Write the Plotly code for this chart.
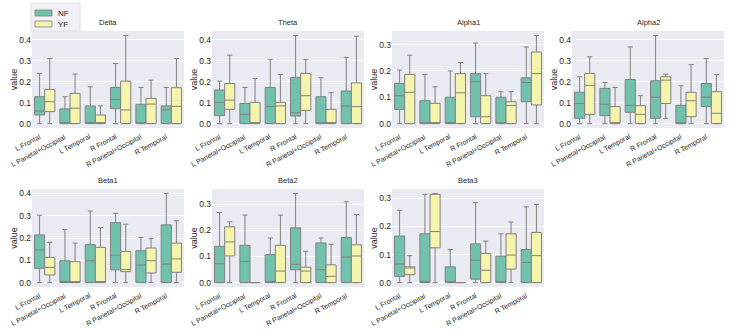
import plotly.graph_objects as go

regions = ["L Frontal", "L Parietal+Occipital", "L Temporal", "R Frontal", "R Parietal+Occipital", "R Temporal"]
bands = ["Delta", "Theta", "Alpha1", "Alpha2", "Beta1", "Beta2", "Beta3"]

# per band: [low, q1, median, q3, high] per region, for NF and YF
delta_nf_low = [0, 0, 0, 0, 0, 0]
delta_nf_q1 = [0.041, 0, 0, 0.071, 0, 0]
delta_nf_med = [0.060, 0, 0, 0.115, 0, 0.065]
delta_nf_q3 = [0.128, 0.070, 0.084, 0.172, 0.092, 0.084]
delta_nf_high = [0.239, 0.128, 0.175, 0.286, 0.172, 0.172]
delta_yf_low = [0, 0, 0, 0, 0, 0]
delta_yf_q1 = [0.057, 0, 0, 0, 0, 0]
delta_yf_med = [0.104, 0.073, 0, 0.065, 0.093, 0.082]
delta_yf_q3 = [0.163, 0.144, 0.041, 0.202, 0.120, 0.171]
delta_yf_high = [0.310, 0.236, 0.084, 0.420, 0.207, 0.310]

theta_nf_low = [0, 0, 0, 0, 0, 0]
theta_nf_q1 = [0.038, 0, 0, 0.036, 0, 0]
theta_nf_med = [0.101, 0.044, 0.081, 0.052, 0, 0.084]
theta_nf_q3 = [0.160, 0.096, 0.172, 0.220, 0.128, 0.155]
theta_nf_high = [0.202, 0.172, 0.305, 0.420, 0.218, 0.315]
theta_yf_low = [0, 0, 0, 0, 0, 0]
theta_yf_q1 = [0.068, 0, 0, 0.063, 0, 0]
theta_yf_med = [0.112, 0, 0.084, 0.133, 0, 0.081]
theta_yf_q3 = [0.191, 0.101, 0.101, 0.239, 0.068, 0.194]
theta_yf_high = [0.326, 0.215, 0.234, 0.305, 0.147, 0.416]

alpha1_nf_low = [0, 0, 0, 0, 0, 0]
alpha1_nf_q1 = [0.054, 0, 0, 0.026, 0, 0.083]
alpha1_nf_med = [0.106, 0, 0, 0.159, 0, 0.156]
alpha1_nf_q3 = [0.153, 0.087, 0.100, 0.190, 0.100, 0.174]
alpha1_nf_high = [0.203, 0.187, 0.200, 0.306, 0.121, 0.291]
alpha1_yf_low = [0, 0, 0, 0, 0, 0]
alpha1_yf_q1 = [0, 0, 0, 0, 0, 0.071]
alpha1_yf_med = [0.119, 0, 0.117, 0.026, 0.069, 0.190]
alpha1_yf_q3 = [0.187, 0.077, 0.190, 0.106, 0.083, 0.272]
alpha1_yf_high = [0.260, 0.140, 0.232, 0.190, 0.121, 0.335]

alpha2_nf_low = [0, 0, 0, 0, 0, 0]
alpha2_nf_q1 = [0.025, 0.038, 0.054, 0.025, 0, 0.081]
alpha2_nf_med = [0.096, 0.092, 0.087, 0.126, 0, 0.126]
alpha2_nf_q3 = [0.149, 0.168, 0.210, 0.204, 0.087, 0.191]
alpha2_nf_high = [0.223, 0.196, 0.365, 0.420, 0.180, 0.310]
alpha2_yf_low = [0, 0, 0, 0.024, 0, 0]
alpha2_yf_q1 = [0.044, 0, 0, 0.096, 0.033, 0]
alpha2_yf_med = [0.182, 0, 0.044, 0.207, 0.109, 0.049]
alpha2_yf_q3 = [0.239, 0.081, 0.085, 0.223, 0.149, 0.152]
alpha2_yf_high = [0.318, 0.172, 0.133, 0.236, 0.281, 0.234]

beta1_nf_low = [0, 0, 0, 0, 0, 0]
beta1_nf_q1 = [0.064, 0, 0, 0.057, 0, 0]
beta1_nf_med = [0.146, 0, 0.098, 0.123, 0.079, 0.083]
beta1_nf_q3 = [0.214, 0.098, 0.170, 0.269, 0.143, 0.259]
beta1_nf_high = [0.302, 0.238, 0.321, 0.311, 0.202, 0.400]
beta1_yf_low = [0, 0, 0, 0, 0, 0]
beta1_yf_q1 = [0.034, 0, 0, 0.049, 0.043, 0.046]
beta1_yf_med = [0.068, 0, 0, 0.059, 0.098, 0.106]
beta1_yf_q3 = [0.113, 0.094, 0.158, 0.140, 0.155, 0.177]
beta1_yf_high = [0.180, 0.177, 0.247, 0.262, 0.198, 0.277]

beta2_nf_low = [0, 0, 0, 0, 0, 0]
beta2_nf_q1 = [0, 0, 0, 0.049, 0, 0]
beta2_nf_med = [0.072, 0.081, 0, 0.070, 0.049, 0.098]
beta2_nf_q3 = [0.139, 0.143, 0.107, 0.210, 0.152, 0.173]
beta2_nf_high = [0.269, 0.259, 0.171, 0.342, 0.171, 0.310]
beta2_yf_low = [0, 0, 0, 0, 0, 0]
beta2_yf_q1 = [0.102, 0, 0, 0, 0, 0]
beta2_yf_med = [0.156, 0, 0.044, 0.044, 0.024, 0.102]
beta2_yf_q3 = [0.214, 0, 0.143, 0.059, 0.068, 0.145]
beta2_yf_high = [0.233, 0, 0.259, 0.120, 0.147, 0.261]

beta3_nf_low = [0, 0, 0, 0, 0, 0]
beta3_nf_q1 = [0.022, 0, 0, 0.012, 0, 0]
beta3_nf_med = [0.066, 0, 0, 0.080, 0, 0.072]
beta3_nf_q3 = [0.166, 0.174, 0.056, 0.138, 0.094, 0.118]
beta3_nf_high = [0.258, 0.315, 0.118, 0.285, 0.174, 0.270]
beta3_yf_low = [0, 0, 0, 0, 0, 0]
beta3_yf_q1 = [0.028, 0.124, 0, 0, 0.048, 0]
beta3_yf_med = [0.052, 0.182, 0, 0.044, 0.098, 0.096]
beta3_yf_q3 = [0.056, 0.315, 0, 0.104, 0.174, 0.179]
beta3_yf_high = [0.096, 0.318, 0, 0.148, 0.216, 0.279]

data = {
    "Delta": ((delta_nf_low, delta_nf_q1, delta_nf_med, delta_nf_q3, delta_nf_high),
              (delta_yf_low, delta_yf_q1, delta_yf_med, delta_yf_q3, delta_yf_high)),
    "Theta": ((theta_nf_low, theta_nf_q1, theta_nf_med, theta_nf_q3, theta_nf_high),
              (theta_yf_low, theta_yf_q1, theta_yf_med, theta_yf_q3, theta_yf_high)),
    "Alpha1": ((alpha1_nf_low, alpha1_nf_q1, alpha1_nf_med, alpha1_nf_q3, alpha1_nf_high),
               (alpha1_yf_low, alpha1_yf_q1, alpha1_yf_med, alpha1_yf_q3, alpha1_yf_high)),
    "Alpha2": ((alpha2_nf_low, alpha2_nf_q1, alpha2_nf_med, alpha2_nf_q3, alpha2_nf_high),
               (alpha2_yf_low, alpha2_yf_q1, alpha2_yf_med, alpha2_yf_q3, alpha2_yf_high)),
    "Beta1": ((beta1_nf_low, beta1_nf_q1, beta1_nf_med, beta1_nf_q3, beta1_nf_high),
              (beta1_yf_low, beta1_yf_q1, beta1_yf_med, beta1_yf_q3, beta1_yf_high)),
    "Beta2": ((beta2_nf_low, beta2_nf_q1, beta2_nf_med, beta2_nf_q3, beta2_nf_high),
              (beta2_yf_low, beta2_yf_q1, beta2_yf_med, beta2_yf_q3, beta2_yf_high)),
    "Beta3": ((beta3_nf_low, beta3_nf_q1, beta3_nf_med, beta3_nf_q3, beta3_nf_high),
              (beta3_yf_low, beta3_yf_q1, beta3_yf_med, beta3_yf_q3, beta3_yf_high)),
}

groups = ["NF", "YF"]
fills = ["#70c2ad", "#f5f4ac"]
edge = "#808080"
W, H = 731, 331
FONT = "Liberation Sans, Arial, sans-serif"
TXT = "#262626"

fig = go.Figure()
layout = dict(
    width=W, height=H, margin=dict(l=0, r=0, t=0, b=0, autoexpand=False),
    paper_bgcolor="white", plot_bgcolor="#eaeaf2",
    boxmode="group", boxgap=0.2, boxgroupgap=0.0,
    font=dict(family=FONT, size=9, color=TXT),
    showlegend=False,
)
annotations = []
shapes = []
for i, band in enumerate(bands):
    r, c = divmod(i, 4)
    x0 = 32 + 180 * c
    x1 = x0 + 152
    if r == 0:
        yt, yb = 31, 128
    else:
        yt, yb = 189, 287
    ax = "" if i == 0 else str(i + 1)
    nf, yf = data[band]
    ymax = max(max(nf[4]), max(yf[4]))
    pad = ymax * 0.05
    for g, stats in enumerate((nf, yf)):
        low, q1, med, q3, high = stats
        fig.add_trace(go.Box(
            x=regions, lowerfence=low, q1=q1, median=med, q3=q3, upperfence=high,
            name=groups[g], offsetgroup=groups[g], legendgroup=groups[g],
            showlegend=False, fillcolor=fills[g],
            line=dict(color=edge, width=1), whiskerwidth=0.5,
            xaxis="x" + ax, yaxis="y" + ax, hoverinfo="skip",
        ))
    layout["xaxis" + ax] = dict(
        domain=[x0 / W, x1 / W], anchor="y" + ax, showgrid=False, zeroline=False,
        showticklabels=False, ticks="", autorange=False,
        range=[-0.5, len(regions) - 0.5],
        categoryorder="array", categoryarray=regions, showline=False,
        automargin=False,
    )
    layout["yaxis" + ax] = dict(
        domain=[1 - yb / H, 1 - yt / H], anchor="x" + ax, range=[-pad, ymax + pad],
        autorange=False,
        showgrid=True, gridcolor="white", gridwidth=1, zeroline=False,
        tickformat=".1f", dtick=0.1, tickfont=dict(size=8.5, color=TXT), ticks="",
        automargin=False,
        title=dict(text="value", font=dict(size=9, color=TXT), standoff=0),
    )
    # rotated category labels, right edge under each category (like matplotlib ha='right')
    for reg in regions:
        annotations.append(dict(
            text=reg, x=reg, xref="x" + ax, y=1 - (yb + 2) / H, yref="paper",
            xanchor="right", yanchor="top", textangle=-28, showarrow=False,
            font=dict(size=7, color=TXT),
        ))
    annotations.append(dict(
        text=band, x=(x0 + x1) / 2 / W, y=1 - (yt - 2) / H, xref="paper", yref="paper",
        xanchor="center", yanchor="bottom", showarrow=False,
        font=dict(size=7.5, color=TXT),
    ))

# legend (drawn as patches + text, top-left)
shapes.append(dict(type="rect", xref="paper", yref="paper",
                   x0=31 / W, x1=80 / W, y0=1 - 31 / H, y1=1 - 3 / H,
                   fillcolor="rgba(238,238,244,0.9)", line=dict(color="#e0e0e8", width=1)))
for g, name in enumerate(groups):
    yc = 13 + 11 * g
    shapes.append(dict(type="rect", xref="paper", yref="paper",
                       x0=35 / W, x1=52 / W, y0=1 - (yc + 3) / H, y1=1 - (yc - 3) / H,
                       fillcolor=fills[g], line=dict(color=edge, width=0.8)))
    annotations.append(dict(text=name, x=56 / W, y=1 - yc / H, xref="paper", yref="paper",
                            xanchor="left", yanchor="middle", showarrow=False,
                            font=dict(size=8, color=TXT)))

layout["annotations"] = annotations
layout["shapes"] = shapes
fig.update_layout(**layout)
fig.write_html(
    "out.html",
    config={"displayModeBar": False, "staticPlot": True},
    post_script="document.body.style.margin='0';document.body.style.padding='0';"
                "document.body.style.overflow='hidden';",
)
